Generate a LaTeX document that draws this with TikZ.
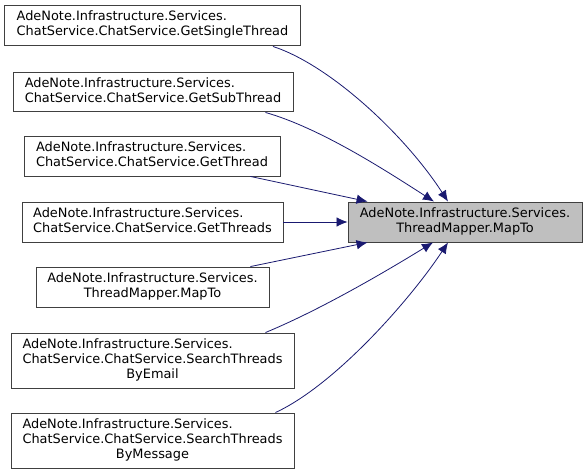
\documentclass[tikz,border=0pt]{standalone}
\usepackage{fontspec}
\setmainfont{DejaVu Sans}
\usetikzlibrary{arrows.meta,calc}
\definecolor{edgeblue}{HTML}{191970}
\definecolor{tgtgray}{HTML}{BFBFBF}
\begin{document}
\begin{tikzpicture}[x=1pt,y=-1pt,
  box/.style={draw=black!75,line width=0.9pt,fill=white,inner sep=0pt,font=\fontsize{12.9}{15}\selectfont},
  edge/.style={draw=edgeblue,line width=0.8pt,-{Latex[length=11pt,width=9.5pt]}}]
\useasboundingbox[fill=white] (0,0) rectangle (587,474);
\node[box,minimum width=296pt,minimum height=40pt] (n1) at (152.5,25)
  {\begin{tabular}{@{}l@{}}AdeNote.Infrastructure.Services.\\ChatService.ChatService.GetSingleThread\end{tabular}};
\node[box,minimum width=280pt,minimum height=39pt] (n2) at (153,91.5)
  {\begin{tabular}{@{}l@{}}AdeNote.Infrastructure.Services.\\ChatService.ChatService.GetSubThread\end{tabular}};
\node[box,minimum width=256pt,minimum height=40pt] (n3) at (152,156)
  {\begin{tabular}{@{}l@{}}AdeNote.Infrastructure.Services.\\ChatService.ChatService.GetThread\end{tabular}};
\node[box,minimum width=261pt,minimum height=40pt] (n4) at (152.5,222)
  {\begin{tabular}{@{}l@{}}AdeNote.Infrastructure.Services.\\ChatService.ChatService.GetThreads\end{tabular}};
\node[box,minimum width=233pt,minimum height=40pt] (n5) at (152.5,287)
  {\begin{tabular}{@{}c@{}}AdeNote.Infrastructure.Services.\\ThreadMapper.MapTo\end{tabular}};
\node[box,minimum width=283pt,minimum height=55pt] (n6) at (152.5,360.5)
  {\begin{tabular}{@{}l@{}}AdeNote.Infrastructure.Services.\\ChatService.ChatService.SearchThreads\\\multicolumn{1}{@{}c@{}}{ByEmail}\end{tabular}};
\node[box,minimum width=283pt,minimum height=55pt] (n7) at (152.5,440.5)
  {\begin{tabular}{@{}l@{}}AdeNote.Infrastructure.Services.\\ChatService.ChatService.SearchThreads\\\multicolumn{1}{@{}c@{}}{ByMessage}\end{tabular}};
\node[box,fill=tgtgray,minimum width=234pt,minimum height=40pt] (t) at (465,222)
  {\begin{tabular}{@{}c@{}}AdeNote.Infrastructure.Services.\\ThreadMapper.MapTo\end{tabular}};
\draw[edge] ($(n1.south east)+(-28,1)$) .. controls (330,65) and (405,135) .. ($(t.north)+(-17,0)$);
\draw[edge] ($(n2.south east)+(-28,1)$) .. controls (320,128) and (385,170) .. ($(t.north)+(-31,0)$);
\draw[edge] ($(n3.south east)+(-30,0)$) -- ($(t.north west)+(20,0)$);
\draw[edge] (n4.east) -- (t.west);
\draw[edge] ($(n5.north east)+(-19,0)$) -- ($(t.south west)+(20,0)$);
\draw[edge] ($(n6.north east)+(-29,0)$) .. controls (320,310) and (385,272) .. ($(t.south)+(-32,0)$);
\draw[edge] ($(n7.north east)+(-19,0)$) .. controls (335,385) and (410,300) .. ($(t.south)+(-17,0)$);
\end{tikzpicture}
\end{document}
